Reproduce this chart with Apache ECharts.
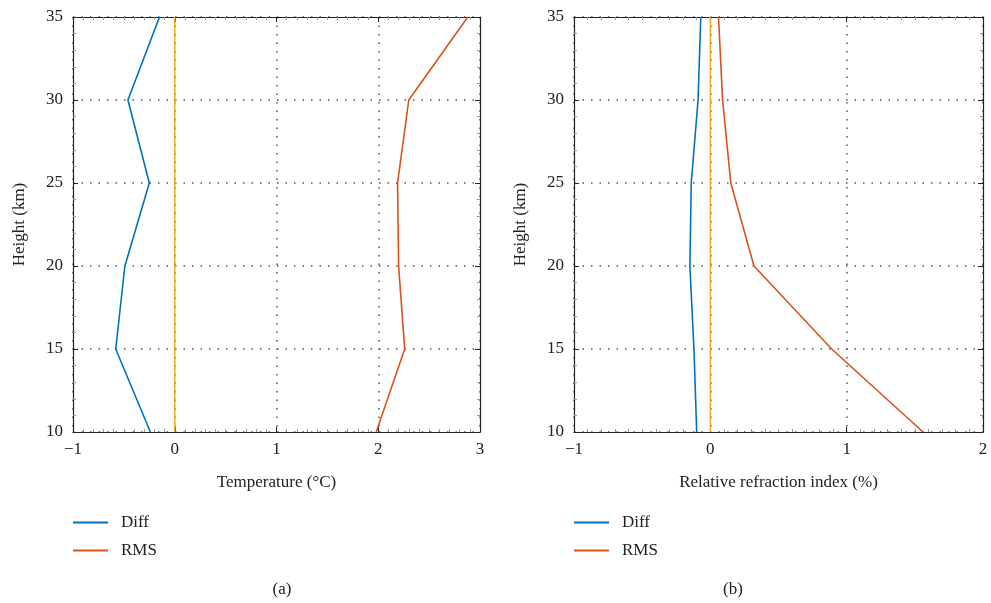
<!DOCTYPE html>
<html>
<head>
<meta charset="utf-8">
<script src="https://cdn.jsdelivr.net/npm/echarts@6/dist/echarts.min.js"></script>
<style>
  html, body { margin: 0; padding: 0; background: #fff; }
  #chart { width: 991px; height: 603px; }
</style>
</head>
<body>
<div id="chart"></div>
<script>
// heights (km) shared by every profile
var heights = [10, 15, 20, 25, 30, 35];
// (a) temperature, °C
var tempDiff = [-0.24, -0.58, -0.49, -0.25, -0.46, -0.15];
var tempRms = [1.98, 2.26, 2.20, 2.19, 2.30, 2.88];
// (b) relative refraction index, %
var refrDiff = [-0.10, -0.12, -0.15, -0.14, -0.09, -0.07];
var refrRms = [1.56, 0.89, 0.32, 0.15, 0.09, 0.06];
var zeroLine = [0, 0];
var zeroHeights = [10, 35];

var legendNames = ['Diff', 'RMS'];
var panelLabels = ['(a)', '(b)'];
var xNames = ['Temperature (°C)', 'Relative refraction index (%)'];
var yName = 'Height (km)';

var serif = 'Liberation Serif';
var blue = '#0072BD', red = '#D95319', yellow = '#EDB120';

function pairs(xs, ys) {
    return xs.map(function (v, i) { return [v, ys[i]]; });
}

function mainX(idx, min, max) {
    return {
        gridIndex: idx, type: 'value', min: min, max: max, interval: 1,
        name: xNames[idx], nameLocation: 'middle', nameGap: 42,
        nameTextStyle: { fontFamily: serif, fontSize: 17, color: '#222' },
        axisLine: { show: true, onZero: false, lineStyle: { color: '#222', width: 1.2 } },
        axisTick: { show: true, inside: true, length: 5, lineStyle: { color: '#222' } },
        minorTick: { show: true, splitNumber: 10, length: 3, lineStyle: { color: '#999' } },
        axisLabel: { fontFamily: serif, fontSize: 17, color: '#222', margin: 9,
            formatter: function (v) { return v < 0 ? '\u2212' + (-v) : String(v); } },
        splitLine: { show: true, lineStyle: { type: [1.5, 7], color: '#555', width: 1.5 } }
    };
}
function boxX(idx, min, max) {
    return {
        gridIndex: idx, type: 'value', min: min, max: max, interval: 1, position: 'top',
        axisLine: { show: true, onZero: false, lineStyle: { color: '#222', width: 1.2 } },
        axisTick: { show: true, inside: true, length: 5, lineStyle: { color: '#222' } },
        minorTick: { show: true, splitNumber: 10, length: 3, lineStyle: { color: '#999' } },
        axisLabel: { show: false }, splitLine: { show: false }
    };
}
function mainY(idx) {
    return {
        gridIndex: idx, type: 'value', min: 10, max: 35, interval: 5,
        name: yName, nameLocation: 'middle', nameGap: 45, nameRotate: 90,
        nameTextStyle: { fontFamily: serif, fontSize: 17, color: '#222' },
        axisLine: { show: true, onZero: false, lineStyle: { color: '#222', width: 1.2 } },
        axisTick: { show: true, inside: true, length: 5, lineStyle: { color: '#222' } },
        minorTick: { show: true, splitNumber: 5, length: 3, lineStyle: { color: '#999' } },
        axisLabel: { fontFamily: serif, fontSize: 17, color: '#222', margin: 10 },
        splitLine: { show: true, lineStyle: { type: [1.5, 7], color: '#555', width: 1.5 } }
    };
}
function boxY(idx) {
    return {
        gridIndex: idx, type: 'value', min: 10, max: 35, interval: 5, position: 'right',
        axisLine: { show: true, onZero: false, lineStyle: { color: '#222', width: 1.2 } },
        axisTick: { show: true, inside: true, length: 5, lineStyle: { color: '#222' } },
        minorTick: { show: true, splitNumber: 5, length: 3, lineStyle: { color: '#999' } },
        axisLabel: { show: false }, splitLine: { show: false }
    };
}
function line(name, data, color, idx) {
    return {
        name: name, type: 'line', xAxisIndex: idx, yAxisIndex: idx,
        data: data, symbol: 'none', silent: true, animation: false, z: 5,
        lineStyle: { color: color, width: 1.6 }, itemStyle: { color: color }
    };
}
function legend(left) {
    return {
        data: legendNames, orient: 'vertical', left: left, top: 509,
        icon: 'rect', itemWidth: 35, itemHeight: 2, itemGap: 11,
        textStyle: { fontFamily: serif, fontSize: 17, color: '#222', padding: [0, 0, 0, 8] }
    };
}

var chart = echarts.init(document.getElementById('chart'));
var option = {
    backgroundColor: '#fff',
    animation: false,
    title: [
        { text: panelLabels[0], left: 277, top: 576, textAlign: 'center',
          textStyle: { fontFamily: serif, fontSize: 17, fontWeight: 'normal', color: '#222' } },
        { text: panelLabels[1], left: 728, top: 576, textAlign: 'center',
          textStyle: { fontFamily: serif, fontSize: 17, fontWeight: 'normal', color: '#222' } }
    ],
    legend: [legend(68), legend(569)],
    grid: [
        { left: 73, right: 511, top: 17, bottom: 171 },
        { left: 574, right: 8, top: 17, bottom: 171 }
    ],
    xAxis: [mainX(0, -1, 3), mainX(1, -1, 2), boxX(0, -1, 3), boxX(1, -1, 2)],
    yAxis: [mainY(0), mainY(1), boxY(0), boxY(1)],
    series: [
        line('Diff', pairs(tempDiff, heights), blue, 0),
        line('zero', pairs(zeroLine, zeroHeights), yellow, 0),
        line('RMS', pairs(tempRms, heights), red, 0),
        line('Diff', pairs(refrDiff, heights), blue, 1),
        line('zero', pairs(zeroLine, zeroHeights), yellow, 1),
        line('RMS', pairs(refrRms, heights), red, 1)
    ]
};
chart.setOption(option);
</script>
</body>
</html>
